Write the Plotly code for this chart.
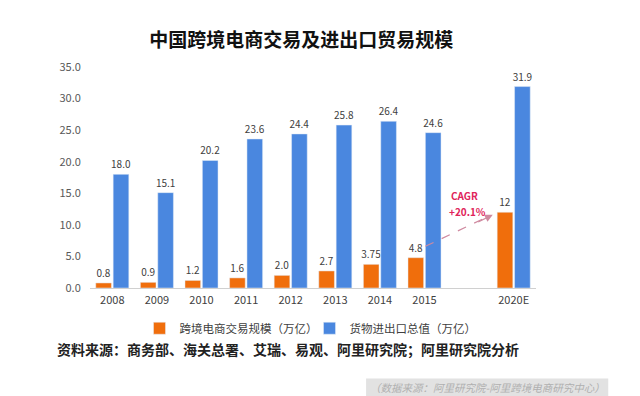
import plotly.graph_objects as go

categories = ["2008", "2009", "2010", "2011", "2012", "2013", "2014", "2015", " ", "2020E"]
ecommerce = [0.8, 0.9, 1.2, 1.6, 2.0, 2.7, 3.75, 4.8, None, 12]
ecommerce_labels = ["0.8", "0.9", "1.2", "1.6", "2.0", "2.7", "3.75", "4.8", "", "12"]
trade = [18.0, 15.1, 20.2, 23.6, 24.4, 25.8, 26.4, 24.6, None, 31.9]
trade_labels = ["18.0", "15.1", "20.2", "23.6", "24.4", "25.8", "26.4", "24.6", "", "31.9"]
y_ticks = [0, 5, 10, 15, 20, 25, 30, 35]

ORANGE = "#F06E0C"
BLUE = "#4A87DF"
FONT = "Noto Sans CJK SC"

fig = go.Figure()
fig.add_trace(go.Bar(
    x=categories, y=ecommerce, name="跨境电商交易规模（万亿）",
    marker_color=ORANGE, text=ecommerce_labels, textposition="outside",
    textfont=dict(size=10, color="#404040"), cliponaxis=False,
))
fig.add_trace(go.Bar(
    x=categories, y=trade, name="货物进出口总值（万亿）",
    marker_color=BLUE, text=trade_labels, textposition="outside",
    textfont=dict(size=10, color="#404040"), cliponaxis=False,
))

i15 = categories.index("2015")
i20 = categories.index("2020E")

fig.update_layout(
    width=632, height=388,
    margin=dict(l=82, r=104, t=59, b=108),
    paper_bgcolor="white", plot_bgcolor="white",
    font=dict(family=FONT, color="#404040"),
    uniformtext=dict(minsize=10, mode="show"),
    barmode="group", bargap=0.22, bargroupgap=0.1,
    title=dict(text="<b>中国跨境电商交易及进出口贸易规模</b>", x=0.464, xref="container",
               xanchor="center", y=0.9175, yref="container", yanchor="middle",
               font=dict(size=19, color="#111111", family=FONT)),
    xaxis=dict(type="category", categoryorder="array", categoryarray=categories,
               showline=True, linecolor="#d0d0d0", linewidth=1,
               ticks="outside", ticklen=2, tickcolor="rgba(0,0,0,0)",
               tickfont=dict(size=11, color="#404040"), showgrid=False,
               range=[-0.5, len(categories) - 0.5]),
    yaxis=dict(range=[0, 35], tickvals=y_ticks, tickformat=".1f", showgrid=False,
               zeroline=False, showline=False,
               ticks="outside", ticklen=6, tickcolor="rgba(0,0,0,0)",
               tickfont=dict(size=11, color="#595959")),
    legend=dict(orientation="h", x=0.111, y=-0.182, xanchor="left", yanchor="middle",
                font=dict(size=11.5, color="#404040"), itemwidth=30,
                entrywidth=125, entrywidthmode="pixels",
                traceorder="normal"),
    showlegend=True,
)

# dashed CAGR arrow
fig.add_shape(type="line", xref="x", yref="y",
              x0=i15 + 0.02, y0=6.6, x1=i20 - 0.52, y1=ecommerce[i20] - 0.5,
              line=dict(color="#cf8aa0", width=1.2, dash="dash"))
fig.add_annotation(xref="x", yref="y",
                   x=i20 - 0.47, y=ecommerce[i20] - 0.4,
                   ax=-16, ay=8,
                   text="", font=dict(size=1), showarrow=True, arrowhead=2,
                   arrowsize=1.3, arrowwidth=1.2, arrowcolor="#cf8aa0")
fig.add_annotation(xref="x", yref="y", x=i20 - 1.1, y=14.7,
                   text="<b>CAGR</b>", showarrow=False,
                   font=dict(size=10, color="#E0245A"))
fig.add_annotation(xref="x", yref="y", x=i20 - 1.04, y=12.1,
                   text="<b>+20.1%</b>", showarrow=False,
                   font=dict(size=10, color="#E0245A"))

# source line
fig.add_annotation(xref="paper", yref="paper", x=-0.0785, y=-0.275,
                   xanchor="left", yanchor="middle", showarrow=False,
                   text="<b>资料来源：商务部、海关总署、艾瑞、易观、阿里研究院；阿里研究院分析</b>",
                   font=dict(size=14, color="#222222", family=FONT))

# grey watermark box
fig.add_shape(type="rect", xref="paper", yref="paper",
              x0=0.619, x1=1.162, y0=-0.489, y1=-0.41,
              fillcolor="#e2e2e2", line=dict(width=0), layer="below")
fig.add_annotation(xref="paper", yref="paper", x=0.8905, y=-0.449,
                   xanchor="center", yanchor="middle", showarrow=False,
                   text="<i>（数据来源：阿里研究院-阿里跨境电商研究中心）</i>",
                   font=dict(size=10.5, color="#b0b0b0", family=FONT))

fig.write_html("out.html")
